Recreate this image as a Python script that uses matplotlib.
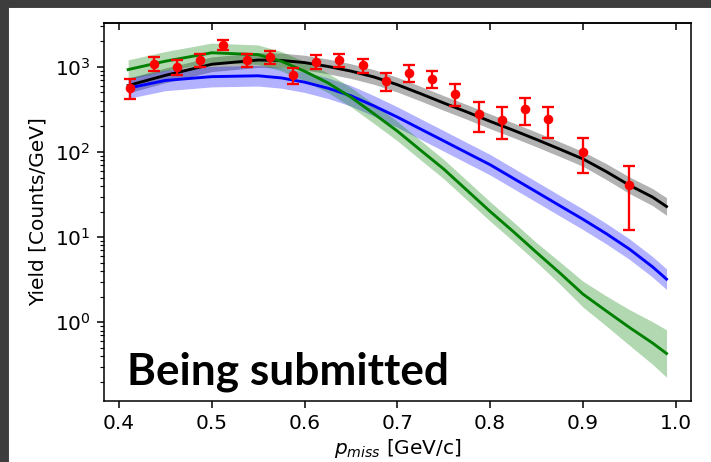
import numpy as np
import matplotlib
matplotlib.use("Agg")
import matplotlib.pyplot as plt
from matplotlib.patches import Rectangle

plt.rcParams["font.size"] = 10.5

# measured points (red)
x_data = [0.4125, 0.4375, 0.4625, 0.4875, 0.5125, 0.5375, 0.5625, 0.5875, 0.6125, 0.6375,
          0.6625, 0.6875, 0.7125, 0.7375, 0.7625, 0.7875, 0.8125, 0.8375, 0.8625, 0.90, 0.95]
y_data = [566, 1093, 1000, 1219, 1829, 1208, 1312, 805, 1154, 1196,
          1045, 684, 850, 728, 485, 282, 240, 323, 242, 101, 40.5]
y_err = [150, 210, 190, 210, 260, 220, 230, 175, 220, 210,
         200, 168, 188, 168, 138, 108, 97, 113, 97, 45, 28.5]

# model curves
x_model = [0.41, 0.45, 0.50, 0.55, 0.575, 0.60, 0.625, 0.65, 0.675, 0.70, 0.725,
           0.75, 0.775, 0.80, 0.825, 0.85, 0.875, 0.90, 0.925, 0.95, 0.975, 0.99]
black = [603, 794, 1072, 1202, 1189, 1122, 1012, 891, 759, 617, 484,
         376, 295, 229, 180, 140, 108, 82.8, 58.9, 40.7, 29.5, 22.9]
blue = [562, 692, 767, 785, 741, 661, 562, 457, 347, 257, 186,
        135, 97.7, 70.8, 49, 33.9, 23.4, 16.2, 11, 7.24, 4.47, 3.21]
green = [929, 1164, 1462, 1390, 1164, 888, 650, 440, 280, 176, 105,
         63, 35.5, 20, 11.6, 6.6, 3.8, 2.14, 1.36, 0.87, 0.57, 0.43]
# band widths (multiplicative)
black_f = [1.22] * 18 + [1.24, 1.25, 1.26, 1.27]
blue_f = [1.32] * 22
green_f = [1.3] * 16 + [1.35, 1.42, 1.5, 1.62, 1.78, 1.9]

fig = plt.figure(figsize=(711 / 138, 462 / 138), dpi=138)
ax = fig.add_axes([0.1463, 0.1327, 0.8251, 0.8182])

xm = np.array(x_model)
for y, f, c in [(black, black_f, "k"), (blue, blue_f, "b"), (green, green_f, "g")]:
    y = np.array(y)
    f = np.array(f)
    ax.fill_between(xm, y / f, y * f, color=c, alpha=0.3, lw=0)

ax.plot(xm, black, color="k", lw=1.5)
ax.plot(xm, blue, color="b", lw=1.5)
ax.plot(xm, green, color="g", lw=1.5)

ax.errorbar(x_data, y_data, yerr=y_err, fmt="o", color="r", ms=4,
            elinewidth=1.2, capsize=3, capthick=1.2, zorder=5)

ax.set_yscale("log")
ax.set_xlim(0.384, 1.016)
ax.set_ylim(0.12, 3300)
ax.set_xlabel("$p_{miss}$ [GeV/c]", labelpad=2)
ax.set_ylabel("Yield [Counts/GeV]")

top = ax.secondary_xaxis("top")
top.tick_params(direction="in", labeltop=False)

ax.text(0.039, 0.044, "Being submitted", transform=ax.transAxes,
        fontsize=23, fontweight="bold", family="Lato", va="baseline")

# dark frame strips
fig.patches.append(Rectangle((0, 1 - 7 / 462), 1, 7 / 462, transform=fig.transFigure,
                             color="#3d3d3d", zorder=10))
fig.patches.append(Rectangle((0, 0), 8 / 711, 1, transform=fig.transFigure,
                             color="#3d3d3d", zorder=10))

fig.savefig("out.png", dpi=138)
